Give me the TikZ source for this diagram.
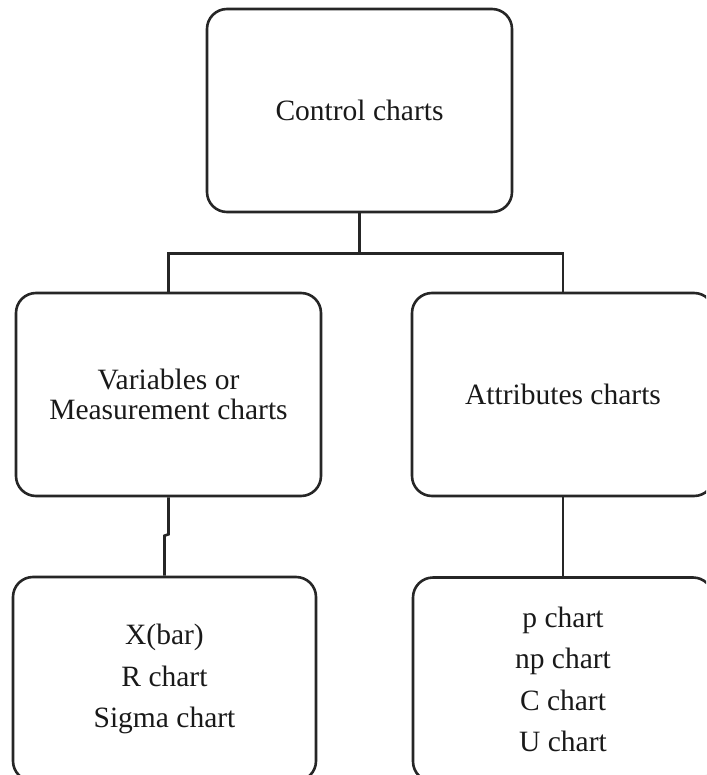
\documentclass[tikz,border=0pt]{standalone}
\usepackage{fontspec}
\setmainfont{Liberation Serif}
\usetikzlibrary{calc}
\begin{document}
\begin{tikzpicture}[x=1pt,y=-1pt,
  chartbox/.style={draw=black!85, line width=2.6pt, rounded corners=20pt,
    minimum width=305pt, minimum height=203pt, inner sep=0pt,
    align=center, text=black!90, font=\fontsize{29.5}{30}\selectfont},
  listbox/.style={chartbox, minimum height=204pt, font=\fontsize{29.5}{41.5}\selectfont},
  link/.style={draw=black!85, line width=2.6pt}]
\useasboundingbox (0,0) rectangle (706,775);
\clip (0,0) rectangle (706,775);

% boxes
\node[chartbox] (root) at (359.5,110.5) {Control charts};
\node[chartbox] (var) at (168.5,394.5) {Variables or\\Measurement charts};
\node[chartbox, minimum width=302pt] (att) at (563,394.5) {Attributes charts};
\node[listbox, minimum width=303pt] (varlist) at (164.5,679)
  {X(bar)\\R chart\\Sigma chart};
\node[listbox, minimum width=300pt] (attlist) at (563,679.5)
  {p chart\\np chart\\C chart\\U chart};

% tree connectors
\draw[link] (root.south) -- ($(root.south)+(0,40)$) coordinate (fork);
\draw[link] (var.north) |- (fork) -| (att.north);
\draw[link] (var.south) -- ($(var.south)+(0,37)$)
  -- ($(varlist.north)+(0,-40)$) -- (varlist.north);
\draw[link] (att.south) -- (attlist.north);
\end{tikzpicture}
\end{document}
